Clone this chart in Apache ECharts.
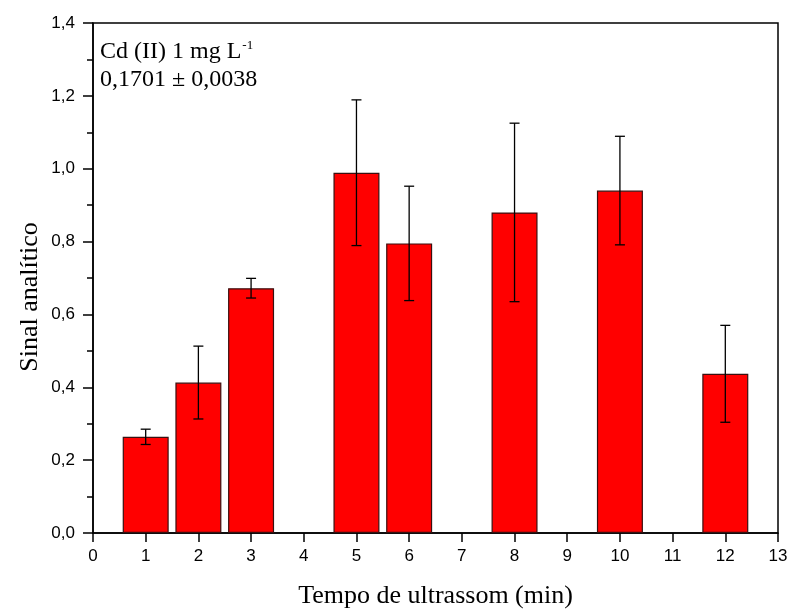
<!DOCTYPE html>
<html>
<head>
<meta charset="utf-8">
<script src="https://cdn.jsdelivr.net/npm/echarts@6/dist/echarts.min.js"></script>
<style>
  html, body { margin: 0; padding: 0; background: #fff; }
  #chart { width: 792px; height: 612px; }
</style>
</head>
<body>
<div id="chart"></div>
<script>
// tempo de ultrassom (min)
var tempos = [1, 2, 3, 5, 6, 8, 10, 12];
// sinal analitico medio
var sinal = [0.264, 0.413, 0.672, 0.989, 0.795, 0.880, 0.940, 0.437];
// desvio padrao
var desvio = [0.021, 0.100, 0.027, 0.200, 0.157, 0.245, 0.149, 0.133];

var xTicks = [0, 1, 2, 3, 4, 5, 6, 7, 8, 9, 10, 11, 12, 13];
var yTicks = [0, 0.2, 0.4, 0.6, 0.8, 1.0, 1.2, 1.4];

var barData = [];
var errData = [];
for (var i = 0; i < tempos.length; i++) {
  barData.push([tempos[i], sinal[i]]);
  errData.push([tempos[i], sinal[i] - desvio[i], sinal[i] + desvio[i]]);
}

var chart = echarts.init(document.getElementById('chart'));

var serif = 'Liberation Serif';
var sans = 'Liberation Sans';

var option = {
  animation: false,
  backgroundColor: '#fff',
  grid: {
    left: 93,
    right: 14,
    top: 23,
    bottom: 79,
    outerBoundsMode: 'none',
    containLabel: false,
    show: true,
    borderColor: '#000',
    borderWidth: 1.5
  },
  xAxis: {
    type: 'value',
    min: xTicks[0],
    max: xTicks[xTicks.length - 1],
    interval: 1,
    name: 'Tempo de ultrassom (min)',
    nameLocation: 'middle',
    nameGap: 50,
    nameTextStyle: { fontFamily: serif, fontSize: 26, color: '#000' },
    axisLine: { show: true, lineStyle: { color: '#000', width: 1.5 } },
    axisTick: { show: true, length: 9, lineStyle: { color: '#000', width: 1.5 } },
    axisLabel: { margin: 15, fontFamily: sans, fontSize: 17, color: '#000' },
    splitLine: { show: false }
  },
  yAxis: {
    type: 'value',
    min: yTicks[0],
    max: yTicks[yTicks.length - 1],
    interval: 0.2,
    axisLine: { show: true, lineStyle: { color: '#000', width: 1.5 } },
    axisTick: { show: true, length: 10, lineStyle: { color: '#000', width: 1.5 } },
    minorTick: { show: true, splitNumber: 2, length: 6, lineStyle: { color: '#000', width: 1.5 } },
    axisLabel: {
      margin: 18,
      fontFamily: sans,
      fontSize: 17,
      color: '#000',
      formatter: function (v) { return v.toFixed(1).replace('.', ','); }
    },
    splitLine: { show: false }
  },
  graphic: [
    {
      type: 'text',
      x: 30,
      y: 297,
      rotation: Math.PI / 2,
      style: {
        text: 'Sinal analítico',
        fontFamily: serif,
        fontSize: 26,
        fill: '#000',
        align: 'center',
        verticalAlign: 'middle'
      }
    },
    {
      type: 'text',
      x: 100,
      y: 52,
      style: {
        text: '{a|Cd (II) 1 mg L}{s|-1}',
        verticalAlign: 'middle',
        rich: {
          a: { fontFamily: serif, fontSize: 24, fill: '#000', lineHeight: 26 },
          s: { fontFamily: serif, fontSize: 13, fill: '#000', verticalAlign: 'top', lineHeight: 26, padding: [0, 0, 12, 1] }
        }
      }
    },
    {
      type: 'text',
      x: 100,
      y: 80,
      style: {
        text: '0,1701 ± 0,0038',
        fontFamily: serif,
        fontSize: 24,
        fill: '#000',
        verticalAlign: 'middle'
      }
    }
  ],
  series: [
    {
      type: 'bar',
      data: barData,
      barWidth: 46,
      itemStyle: { color: '#ff0000', borderColor: '#3a1010', borderWidth: 1.2 }
    },
    {
      type: 'custom',
      data: errData,
      z: 10,
      renderItem: function (params, api) {
        var x = api.value(0);
        var lo = api.coord([x, api.value(1)]);
        var hi = api.coord([x, api.value(2)]);
        var cap = 5;
        var st = { stroke: '#000', lineWidth: 1.3 };
        return {
          type: 'group',
          children: [
            { type: 'line', shape: { x1: lo[0], y1: lo[1], x2: hi[0], y2: hi[1] }, style: st },
            { type: 'line', shape: { x1: hi[0] - cap, y1: hi[1], x2: hi[0] + cap, y2: hi[1] }, style: st },
            { type: 'line', shape: { x1: lo[0] - cap, y1: lo[1], x2: lo[0] + cap, y2: lo[1] }, style: st }
          ]
        };
      }
    }
  ]
};

chart.setOption(option);
</script>
</body>
</html>
